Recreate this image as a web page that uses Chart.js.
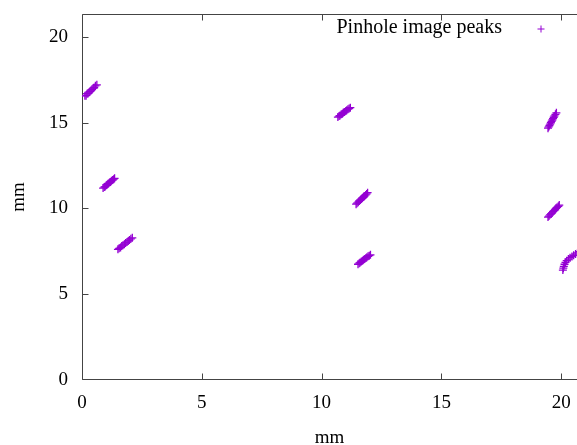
<!DOCTYPE html>
<html><head><meta charset="utf-8">
<script src="https://cdn.jsdelivr.net/npm/chart.js@4.4.1/dist/chart.umd.min.js"></script>
<style>html,body{margin:0;padding:0;background:#fff;overflow:hidden}#wrap{width:577px;height:445px;position:relative}</style>
</head><body><div id="wrap"><canvas id="c" width="577" height="445"></canvas></div>
<script>
const seriesLabel = 'Pinhole image peaks';
const xTitle = 'mm';
const yTitle = 'mm';
const xTickValues = [0, 5, 10, 15, 20];
const yTickValues = [0, 5, 10, 15, 20];
const xMin = 0, xMax = 20.66;
const yMin = 0, yMax = 21.34;

const peakX = [
  0.12,0.17,0.21,0.25,0.30,0.33,0.38,0.42,0.47,0.51,0.56,0.62,
  0.88,0.93,0.97,1.02,1.06,1.10,1.15,1.19,1.23,1.28,1.32,1.36,
  1.50,1.55,1.61,1.66,1.71,1.77,1.82,1.88,1.93,1.98,2.04,2.10,
  10.68,10.73,10.77,10.82,10.87,10.91,10.96,11.01,11.05,11.10,11.15,11.20,
  11.44,11.48,11.53,11.57,11.62,11.66,11.70,11.75,11.79,11.84,11.88,11.92,
  11.52,11.57,11.61,11.66,11.71,11.75,11.80,11.85,11.89,11.94,11.99,12.04,
  19.45,19.48,19.51,19.54,19.57,19.60,19.63,19.66,19.69,19.72,19.76,19.80,
  19.45,19.49,19.53,19.58,19.62,19.66,19.71,19.75,19.79,19.83,19.88,19.92,
  20.07,20.09,20.11,20.14,20.18,20.23,20.30,20.37,20.45,20.52,20.60,20.68,20.76
];
const peakY = [
  16.57,16.58,16.69,16.70,16.79,16.81,16.90,16.93,17.02,17.05,17.15,17.21,
  11.19,11.25,11.28,11.36,11.40,11.45,11.52,11.55,11.62,11.66,11.71,11.76,
  7.62,7.68,7.73,7.81,7.86,7.92,7.99,8.04,8.11,8.16,8.23,8.29,
  15.33,15.39,15.42,15.49,15.53,15.59,15.63,15.69,15.73,15.79,15.83,15.88,
  10.25,10.31,10.37,10.43,10.49,10.55,10.61,10.67,10.73,10.79,10.85,10.92,
  6.75,6.81,6.85,6.91,6.95,7.01,7.05,7.11,7.15,7.21,7.25,7.30,
  14.68,14.76,14.84,14.92,15.00,15.08,15.16,15.24,15.32,15.40,15.49,15.58,
  9.50,9.56,9.63,9.69,9.75,9.82,9.88,9.94,10.01,10.07,10.13,10.20,
  6.41,6.52,6.63,6.75,6.86,6.96,7.05,7.13,7.20,7.27,7.34,7.41,7.48
];

const markerColor = '#9400D3';
const axisColor = '#444444';
const fontFamily = '"Liberation Serif", "DejaVu Serif", serif';

const points = peakX.map((x, i) => ({ x: x, y: peakY[i] }));

function zeroPad(s) { s.paddingLeft = 0; s.paddingRight = 0; s.paddingTop = 0; s.paddingBottom = 0; }

const framePlugin = {
  id: 'frame',
  beforeDatasetsDraw(chart) {
    const { ctx, chartArea: a, scales } = chart;
    const x = scales.x, y = scales.y;
    const L = Math.round(a.left) + 0.5, B = Math.round(a.bottom) - 0.5, T = Math.round(a.top) + 0.5;
    ctx.save();
    ctx.strokeStyle = axisColor;
    ctx.lineWidth = 1;
    ctx.beginPath();
    ctx.moveTo(a.right, T);
    ctx.lineTo(L, T);
    ctx.lineTo(L, B);
    ctx.lineTo(a.right, B);
    x.ticks.forEach(t => {
      const px = Math.round(x.getPixelForValue(t.value)) + 0.5;
      ctx.moveTo(px, B); ctx.lineTo(px, B - 6);
      ctx.moveTo(px, T); ctx.lineTo(px, T + 6);
    });
    y.ticks.forEach(t => {
      const py = Math.min(B, Math.max(T, Math.round(y.getPixelForValue(t.value)) + 0.5));
      ctx.moveTo(L, py); ctx.lineTo(L + 6, py);
    });
    ctx.stroke();
    ctx.restore();
  }
};

const keyPlugin = {
  id: 'key',
  afterDraw(chart) {
    const { ctx, chartArea: a } = chart;
    const label = chart.data.datasets[0].label;
    ctx.save();
    ctx.font = '20px ' + fontFamily;
    ctx.fillStyle = '#000';
    ctx.textAlign = 'right';
    ctx.textBaseline = 'middle';
    const tx = a.right - 75, ty = a.top + 14;
    ctx.fillText(label, tx, ty);
    const mx = tx + 39, my = ty + 1;
    ctx.strokeStyle = markerColor;
    ctx.lineWidth = 1;
    ctx.beginPath();
    ctx.moveTo(mx - 3.5, my); ctx.lineTo(mx + 3.5, my);
    ctx.moveTo(mx, my - 3.5); ctx.lineTo(mx, my + 3.5);
    ctx.stroke();
    ctx.restore();
  }
};

new Chart(document.getElementById('c'), {
  type: 'scatter',
  data: {
    datasets: [{
      label: seriesLabel,
      data: points,
      pointStyle: 'cross',
      pointRadius: 4,
      pointHoverRadius: 4,
      borderColor: markerColor,
      backgroundColor: markerColor,
      pointBorderWidth: 1.3,
      showLine: false
    }]
  },
  options: {
    responsive: false,
    devicePixelRatio: 1,
    animation: false,
    events: [],
    layout: { autoPadding: false, padding: { top: 14, right: 0, bottom: 0, left: 0 } },
    plugins: { legend: { display: false }, tooltip: { enabled: false } },
    scales: {
      x: {
        type: 'linear',
        min: xMin, max: xMax,
        afterFit: s => { s.height = 65; zeroPad(s); },
        afterBuildTicks: s => { s.ticks = xTickValues.map(v => ({ value: v })); },
        grid: { display: false, drawTicks: false },
        border: { display: false },
        ticks: { includeBounds: false, color: '#000', padding: 12, maxRotation: 0, font: { family: fontFamily, size: 19 } },
        title: { display: true, text: xTitle, color: '#000', padding: { top: 0, bottom: -3 }, font: { family: fontFamily, size: 19, lineHeight: 1 } }
      },
      y: {
        type: 'linear',
        min: yMin, max: yMax,
        afterFit: s => { s.width = 82; zeroPad(s); },
        afterBuildTicks: s => { s.ticks = yTickValues.map(v => ({ value: v })); },
        grid: { display: false, drawTicks: false },
        border: { display: false },
        ticks: { includeBounds: false, color: '#000', padding: 14, font: { family: fontFamily, size: 19 } },
        title: { display: true, text: yTitle, color: '#000', padding: { top: 8, bottom: 0 }, font: { family: fontFamily, size: 19, lineHeight: 1.2 } }
      }
    }
  },
  plugins: [framePlugin, keyPlugin]
});
</script>
</body></html>
